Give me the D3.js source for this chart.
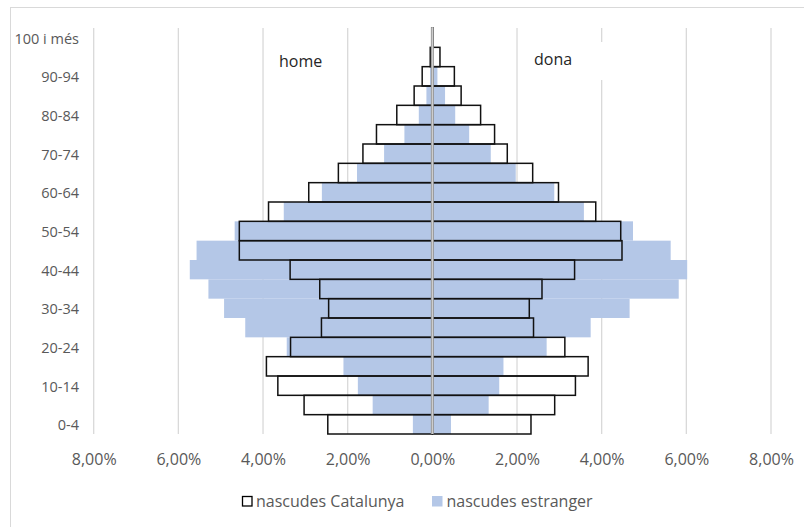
<!DOCTYPE html>
<html>
<head>
<meta charset="utf-8">
<script src="https://cdn.jsdelivr.net/npm/d3@7"></script>
<style>
  html, body { margin: 0; padding: 0; background: #fff; }
  svg { display: block; font-family: "Open Sans", sans-serif; }
</style>
</head>
<body>
<svg id="chart" width="804" height="527"></svg>
<script>
// Age groups, bottom to top
const categories = ["0-4","5-9","10-14","15-19","20-24","25-29","30-34","35-39","40-44","45-49",
  "50-54","55-59","60-64","65-69","70-74","75-79","80-84","85-89","90-94","95-99","100 i més"];
// Percentages (home = left side, dona = right side)
const homeCatalunya = [2.47,3.03,3.65,3.92,3.35,2.62,2.45,2.66,3.36,4.56,4.56,3.87,2.92,2.22,1.64,1.32,0.84,0.43,0.24,0.05,0.01];
const homeEstranger = [0.46,1.41,1.76,2.10,3.44,4.42,4.92,5.29,5.73,5.57,4.67,3.51,2.61,1.78,1.14,0.66,0.32,0.14,0.055,0.01,0.005];
const donaCatalunya = [2.33,2.89,3.38,3.68,3.13,2.39,2.29,2.59,3.36,4.48,4.45,3.86,2.98,2.37,1.77,1.47,1.14,0.68,0.52,0.18,0.02];
const donaEstranger = [0.44,1.33,1.58,1.68,2.70,3.74,4.66,5.82,6.02,5.63,4.74,3.58,2.88,1.97,1.38,0.87,0.54,0.30,0.12,0.01,0.005];
const xTicks = [-8,-6,-4,-2,0,2,4,6,8];
const seriesNames = ["nascudes Catalunya","nascudes estranger"];
const sideLabels = ["home","dona"];

const svg = d3.select("#chart");
const W = 804, H = 527;

// outer chart frame (only top/left visible)
svg.append("rect").attr("x",10.5).attr("y",7.5).attr("width",W+20).attr("height",H+20)
  .attr("fill","none").attr("stroke","#d9d9d9").attr("stroke-width",1);

const x = d3.scaleLinear().domain([-8, 8]).range([93.7, 771]);
const y = d3.scaleBand().domain(categories).range([434, 28]).padding(0);
const y0 = 28, y1 = 434;

// gridlines
svg.append("g").selectAll("line").data(xTicks.filter(d => d !== 0)).join("line")
  .attr("x1", d => x(d)).attr("x2", d => x(d)).attr("y1", y0).attr("y2", y1)
  .attr("stroke","#d9d9d9").attr("stroke-width",1.3);

// label "dona" background box covers gridline
svg.append("rect").attr("x",522).attr("y",42).attr("width",81).attr("height",38).attr("fill","#fff");

// blue bars (nascudes estranger)
const blue = "#b4c7e7";
const g = svg.append("g");
g.selectAll("rect.he").data(categories).join("rect").attr("class","he")
  .attr("x", (d,i) => x(-homeEstranger[i])).attr("width", (d,i) => x(0) - x(-homeEstranger[i]))
  .attr("y", d => y(d)).attr("height", y.bandwidth()).attr("fill", blue);
g.selectAll("rect.de").data(categories).join("rect").attr("class","de")
  .attr("x", x(0)).attr("width", (d,i) => x(donaEstranger[i]) - x(0))
  .attr("y", d => y(d)).attr("height", y.bandwidth()).attr("fill", blue);

// outlined bars (nascudes Catalunya)
g.selectAll("rect.hc").data(categories).join("rect").attr("class","hc")
  .attr("x", (d,i) => x(-homeCatalunya[i])).attr("width", (d,i) => x(0) - x(-homeCatalunya[i]))
  .attr("y", d => y(d)).attr("height", y.bandwidth())
  .attr("fill","none").attr("stroke","#111").attr("stroke-width",1.5);
g.selectAll("rect.dc").data(categories).join("rect").attr("class","dc")
  .attr("x", x(0)).attr("width", (d,i) => x(donaCatalunya[i]) - x(0))
  .attr("y", d => y(d)).attr("height", y.bandwidth())
  .attr("fill","none").attr("stroke","#111").attr("stroke-width",1.5);

// central axis line
svg.append("line").attr("x1", x(0)).attr("x2", x(0)).attr("y1", y0 - 0.7).attr("y2", y1)
  .attr("stroke","#9a9a9a").attr("stroke-width",3);
svg.append("line").attr("x1", x(0)).attr("x2", x(0)).attr("y1", y0 - 0.7).attr("y2", y1)
  .attr("stroke","#d6d6d6").attr("stroke-width",1);

// x axis labels
const fmt = d => Math.abs(d).toFixed(2).replace(".", ",") + "%";
const xAxis = svg.append("g").attr("transform", `translate(0,${y1})`)
  .call(d3.axisBottom(x).tickValues(xTicks).tickFormat(fmt).tickSize(0));
xAxis.select(".domain").remove();
xAxis.selectAll("text").attr("y", 31).attr("dy", null)
  .attr("fill","#595959").style("font-size","16px").style("font-family","'Open Sans', sans-serif");

// y axis labels (every other category)
const yAxis = svg.append("g").attr("transform", "translate(79,0)")
  .call(d3.axisLeft(y).tickValues(categories.filter((d,i) => i % 2 === 0)).tickSize(0).tickPadding(0));
yAxis.select(".domain").remove();
yAxis.selectAll("text").attr("dy","0.42em")
  .attr("fill","#595959").style("font-size","14.5px").style("font-family","'Open Sans', sans-serif");

// side labels
svg.append("text").attr("x", 279).attr("y", 67).text(sideLabels[0])
  .attr("fill","#262626").style("font-size","16px");
svg.append("text").attr("x", 534).attr("y", 65).text(sideLabels[1])
  .attr("fill","#262626").style("font-size","16px");

// legend
const leg = svg.append("g");
leg.append("rect").attr("x",242.5).attr("y",496.5).attr("width",9.5).attr("height",9.5)
  .attr("fill","#fff").attr("stroke","#000").attr("stroke-width",1.3);
leg.append("text").attr("x",256).attr("y",506.5).text(seriesNames[0])
  .attr("fill","#595959").style("font-size","16px");
leg.append("rect").attr("x",432).attr("y",496).attr("width",10.5).attr("height",10.5).attr("fill",blue);
leg.append("text").attr("x",446.5).attr("y",506.5).text(seriesNames[1])
  .attr("fill","#595959").style("font-size","16px");
</script>
</body>
</html>
